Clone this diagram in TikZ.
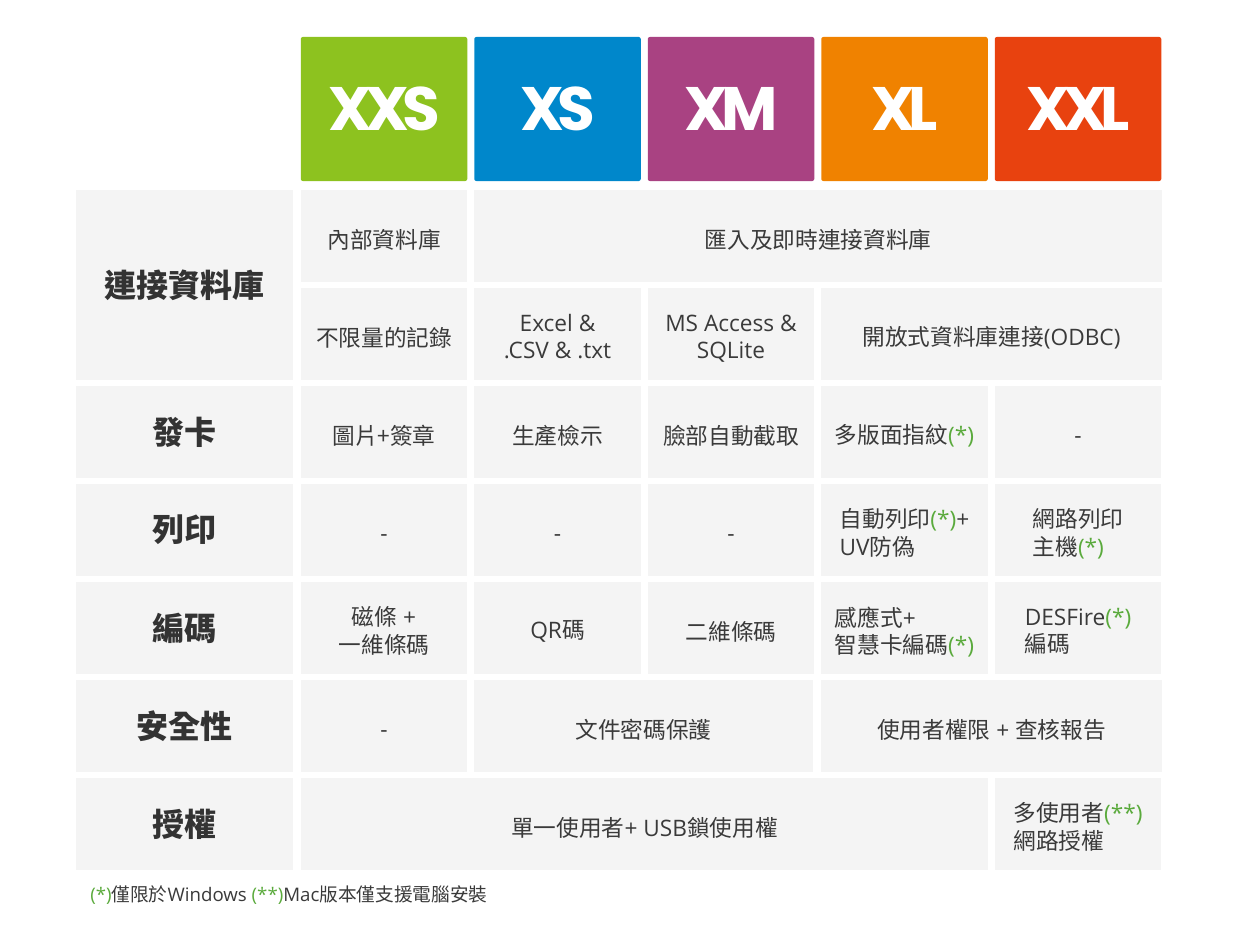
\documentclass[tikz,border=0pt]{standalone}
\usepackage{fontspec}
\setmainfont{Open Sans}
\newfontfamily\zhfont{Noto Sans CJK TC}
\newfontfamily\headfont{Poppins}[LetterSpace=-11]

\definecolor{xxsgreen}{HTML}{8DC21F}
\definecolor{xsblue}{HTML}{0087CB}
\definecolor{xmpurple}{HTML}{A94282}
\definecolor{xlorange}{HTML}{F08200}
\definecolor{xxlred}{HTML}{E8420F}
\definecolor{cellgray}{HTML}{F4F4F4}
\definecolor{textgray}{HTML}{3A3A3A}
\definecolor{labelgray}{HTML}{333333}
\definecolor{stargreen}{HTML}{5AAA3C}

\newdimen\pxu \pxu=0.75pt
\newcommand\zh[1]{{\zhfont #1}}
\newcommand\astg{\textcolor{stargreen}{(*)}}
\newcommand\astgg{\textcolor{stargreen}{(**)}}
% text sits a little below the middle of its cell
\newcommand\oneline[1]{\raisebox{-3.5\pxu}[\height][\depth]{\vphantom{\zh{國}}#1}}
\newcommand\twoline[3][c]{\raisebox{-6\pxu}[\height][\depth]{\begin{tabular}{@{}#1@{}}#2\\#3\end{tabular}}}

\tikzset{
  head/.style={minimum width=166.5\pxu, minimum height=144\pxu, inner sep=0,
    rounded corners=2\pxu, text=white, font=\headfont\bfseries\fontsize{46}{46}\selectfont},
  cell/.style={fill=cellgray, minimum width=166.5\pxu, minimum height=92\pxu,
    inner sep=0, text=textgray, align=center, font=\fontsize{17}{20.25}\selectfont},
  rowlabel/.style={cell, minimum width=217\pxu, text=labelgray,
    font=\zhfont\bfseries\fontsize{24}{28}\selectfont},
}

\begin{document}
\begin{tikzpicture}[x=0.75pt, y=-0.75pt]
    \path[use as bounding box] (0,0) rectangle (1240,942);

    % Header: one coloured box per edition
    \node [head, fill=xxsgreen] (hxxs) at (384,109) {XXS};
    \node [head, fill=xsblue] (hxs) at (557.5,109) {XS};
    \node [head, fill=xmpurple] (hxm) at (731,109) {XM};
    \node [head, fill=xlorange] (hxl) at (904.5,109) {XL};
    \node [head, fill=xxlred] (hxxl) at (1078,109) {XXL};

    % Database connection (two sub-rows)
    \node [rowlabel, minimum height=190\pxu] (ldb) at (184.5,285) {連接資料庫};
    \node [cell] (db11) at (384,236) {\oneline{\zh{內部資料庫}}};
    \node [cell, minimum width=688\pxu] (db12) at (818,236) {\oneline{\zh{匯入及即時連接資料庫}}};
    \node [cell] (db21) at (384,334) {\oneline{\zh{不限量的記錄}}};
    \node [cell] (db22) at (557.5,334) {\twoline{Excel \&}{.CSV \& .txt}};
    \node [cell] (db23) at (731,334) {\twoline{MS Access \&}{SQLite}};
    \node [cell, minimum width=341\pxu] (db24) at (991.5,334) {\oneline{\zh{開放式資料庫連接}(ODBC)}};

    % Card design
    \node [rowlabel] (lcard) at (184.5,432) {發卡};
    \node [cell] (card1) at (384,432) {\oneline{\zh{圖片+簽章}}};
    \node [cell] (card2) at (557.5,432) {\oneline{\zh{生產檢示}}};
    \node [cell] (card3) at (731,432) {\oneline{\zh{臉部自動截取}}};
    \node [cell] (card4) at (904.5,432) {\oneline{\zh{多版面指紋}\astg}};
    \node [cell] (card5) at (1078,432) {\oneline{-}};

    % Printing
    \node [rowlabel] (lprint) at (184.5,530) {列印};
    \node [cell] (print1) at (384,530) {\oneline{-}};
    \node [cell] (print2) at (557.5,530) {\oneline{-}};
    \node [cell] (print3) at (731,530) {\oneline{-}};
    \node [cell] (print4) at (904.5,530) {\twoline[l]{\zh{自動列印}\astg+}{UV\zh{防偽}}};
    \node [cell] (print5) at (1078,530) {\twoline[l]{\zh{網路列印}}{\zh{主機}\astg}};

    % Encoding
    \node [rowlabel] (lcode) at (184.5,628) {編碼};
    \node [cell] (code1) at (384,628) {\twoline{\zh{磁條} +}{\zh{一維條碼}}};
    \node [cell] (code2) at (557.5,628) {\oneline{QR\zh{碼}}};
    \node [cell] (code3) at (731,628) {\oneline{\zh{二維條碼}}};
    \node [cell] (code4) at (904.5,628) {\twoline[l]{\zh{感應式}+}{\zh{智慧卡編碼}\astg}};
    \node [cell] (code5) at (1078,628) {\twoline[l]{DESFire\astg}{\zh{編碼}}};

    % Security
    \node [rowlabel] (lsec) at (184.5,726) {安全性};
    \node [cell] (sec1) at (384,726) {\oneline{-}};
    \node [cell, minimum width=339\pxu] (sec2) at (643.5,726) {\oneline{\zh{文件密碼保護}}};
    \node [cell, minimum width=341\pxu] (sec3) at (991.5,726) {\oneline{\zh{使用者權限} + \zh{查核報告}}};

    % Licence
    \node [rowlabel] (llic) at (184.5,824) {授權};
    \node [cell, minimum width=687\pxu] (lic1) at (644.5,824) {\oneline{\zh{單一使用者}+ USB\zh{鎖使用權}}};
    \node [cell] (lic2) at (1078,824) {\twoline[l]{\zh{多使用者}\astgg}{\zh{網路授權}}};

    % Footnote
    \node [anchor=base west, inner sep=0, text=textgray, font=\fontsize{14}{16}\selectfont] (note) at (90,901)
        {\astg\zh{僅限於}Windows \astgg Mac\zh{版本僅支援電腦安裝}};
\end{tikzpicture}
\end{document}
